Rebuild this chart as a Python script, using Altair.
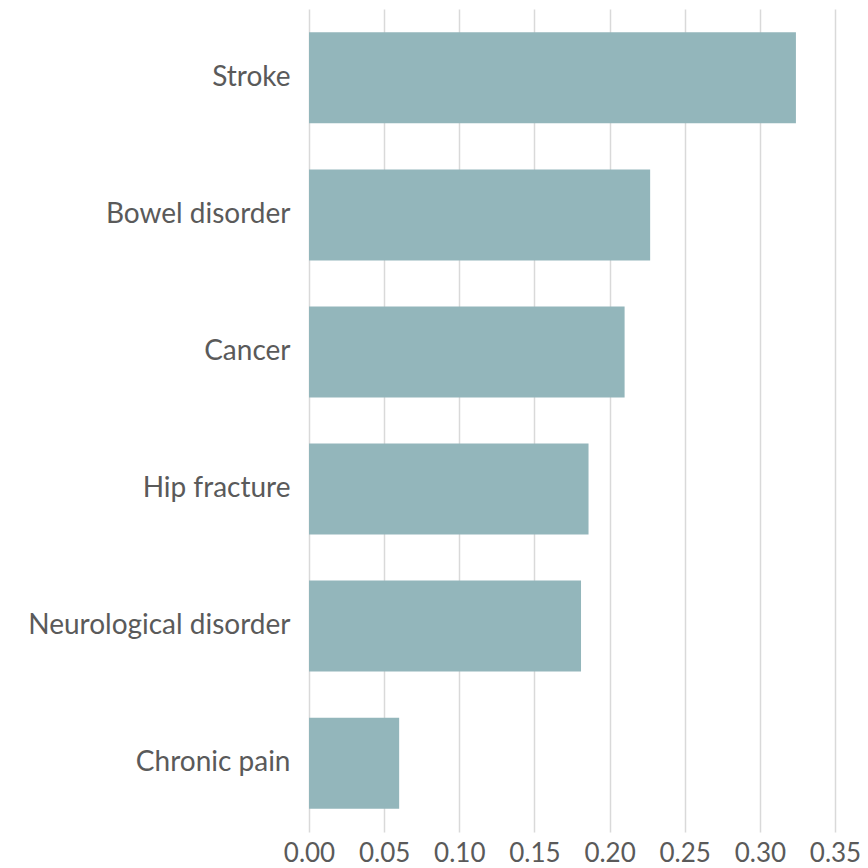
import altair as alt
import pandas as pd

categories = ["Stroke", "Bowel disorder", "Cancer", "Hip fracture", "Neurological disorder", "Chronic pain"]
values = [0.324, 0.227, 0.210, 0.186, 0.181, 0.060]
tick_values = [0.0, 0.05, 0.10, 0.15, 0.20, 0.25, 0.30, 0.35]

df = pd.DataFrame({"condition": categories, "value": values})

FONT = "Lato"
TEXT = "#5a5a5a"

chart = alt.Chart(df).mark_bar(color="#93b6bb").encode(
    x=alt.X("value:Q",
            scale=alt.Scale(domain=[0, 0.35], nice=False),
            axis=alt.Axis(values=tick_values, format=".2f", title=None,
                          domain=False, ticks=False, grid=True,
                          gridColor="#d9d9d9", gridWidth=1.5,
                          labelFont=FONT, labelFontSize=26, labelColor=TEXT,
                          labelPadding=8, labelFlush=False)),
    y=alt.Y("condition:N", sort=categories,
            scale=alt.Scale(paddingInner=0.336, paddingOuter=0.17),
            axis=alt.Axis(title=None, domain=False, ticks=False,
                          labelFont=FONT, labelFontSize=28, labelColor=TEXT,
                          labelPadding=19, labelLimit=400)),
).properties(
    width=526,
    height=823,
    autosize=alt.AutoSizeParams(type="none"),
    padding={"left": 301, "top": 1, "right": 25, "bottom": 36},
).configure_view(stroke=None)

chart.save("out.html", embed_options={"renderer": "svg", "actions": False})
